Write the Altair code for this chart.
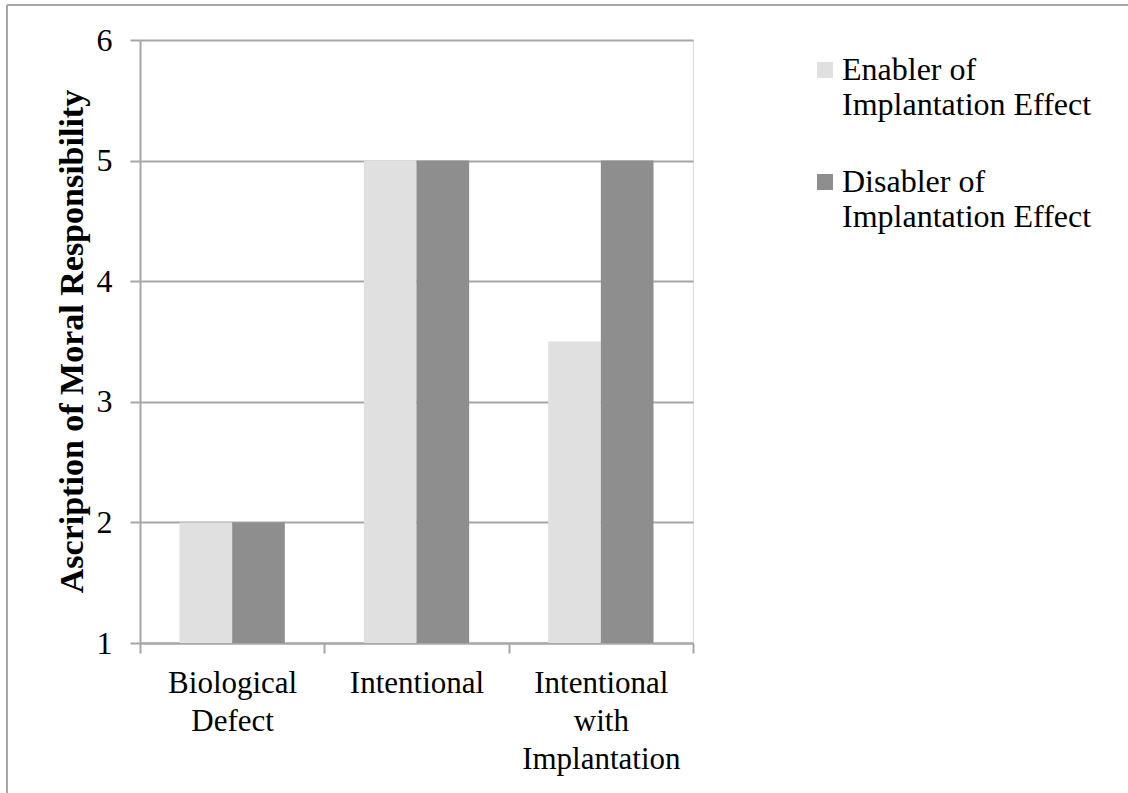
import altair as alt
import pandas as pd

# Scenario categories and their wrapped axis labels
categories = ["Biological Defect", "Intentional", "Intentional with Implantation"]
category_lines = [["Biological", "Defect"], ["Intentional"], ["Intentional", "with", "Implantation"]]

# Series (mean ascription of moral responsibility)
series_names = ["Enabler of Implantation Effect", "Disabler of Implantation Effect"]
series_lines = [["Enabler of", "Implantation Effect"], ["Disabler of", "Implantation Effect"]]
enabler = [2, 5, 3.5]
disabler = [2, 5, 5]

# Axis scale
y_min, y_max = 1, 6
y_ticks = [1, 2, 3, 4, 5, 6]

colors = ["#e0e0e0", "#8e8e8e"]
line_gray = "#a6a6a6"
FONT = "Liberation Serif"

rows = []
for cat, e, d in zip(categories, enabler, disabler):
    rows.append({"scenario": cat, "group": series_names[0], "value": e, "base": y_min})
    rows.append({"scenario": cat, "group": series_names[1], "value": d, "base": y_min})
df = pd.DataFrame(rows)


def split_expr(names, lines):
    expr = "datum.label"
    for name, parts in zip(names, lines):
        arr = "[" + ", ".join("'" + p + "'" for p in parts) + "]"
        expr = f"datum.label === '{name}' ? {arr} : ({expr})"
    return expr


bars = alt.Chart(df).mark_bar().encode(
    x=alt.X(
        "scenario:N",
        sort=categories,
        scale=alt.Scale(paddingInner=0, paddingOuter=0),
        axis=alt.Axis(
            title=None,
            labelAngle=0,
            labelFont=FONT,
            labelFontSize=31,
            labelColor="#000000",
            labelBaseline="top",
            labelLineHeight=38,
            labelPadding=15,
            labelExpr=split_expr(categories, category_lines),
            tickBand="extent",
            tickSize=10,
            tickColor=line_gray,
            tickWidth=2,
            domainColor=line_gray,
            domainWidth=2,
            grid=False,
        ),
    ),
    xOffset=alt.XOffset(
        "group:N",
        sort=series_names,
        scale=alt.Scale(paddingInner=0, paddingOuter=0.75),
    ),
    y=alt.Y(
        "value:Q",
        scale=alt.Scale(domain=[y_min, y_max], zero=False, nice=False),
        axis=alt.Axis(
            title="Ascription of Moral Responsibility",
            titleFont=FONT,
            titleFontSize=34,
            titleFontWeight="bold",
            titleColor="#000000",
            titleAngle=-90,
            titleAlign="center",
            titleBaseline="alphabetic",
            titleX=-58,
            titleY=301,
            values=y_ticks,
            labelFont=FONT,
            labelFontSize=32,
            labelColor="#000000",
            labelPadding=18,
            tickSize=10,
            tickColor=line_gray,
            tickWidth=2,
            domainColor=line_gray,
            domainWidth=2,
            gridColor=line_gray,
            gridWidth=2,
        ),
    ),
    y2="base:Q",
    color=alt.Color(
        "group:N",
        sort=series_names,
        scale=alt.Scale(domain=series_names, range=colors),
        legend=alt.Legend(
            title=None,
            orient="none",
            legendX=669,
            legendY=14,
            symbolType="square",
            symbolSize=256,
            symbolStrokeWidth=0,
            labelFont=FONT,
            labelFontSize=32,
            labelColor="#000000",
            labelOffset=1,
            labelLimit=400,
            rowPadding=45,
            labelExpr=split_expr(series_names, series_lines),
        ),
    ),
)

# Chart-area frame (left and top edges)
one = alt.Data(values=[{"k": 0}])
frame_left = alt.Chart(one).mark_rule(color=line_gray, strokeWidth=2).encode(
    x=alt.value(-133), y=alt.value(-35), y2=alt.value(800)
)
frame_top = alt.Chart(one).mark_rule(color=line_gray, strokeWidth=2).encode(
    x=alt.value(-133), x2=alt.value(1000), y=alt.value(-35)
)

chart = (
    alt.layer(bars, frame_left, frame_top)
    .properties(
        width=553,
        height=603,
        autosize=alt.AutoSizeParams(type="none"),
        padding={"left": 140, "top": 40, "right": 435, "bottom": 150},
        background="#ffffff",
    )
    .configure_view(strokeOpacity=0)
    .configure(style={"guide-label": {"lineHeight": 35}})
)

chart.save("out.html", embed_options={"renderer": "svg", "actions": False})
